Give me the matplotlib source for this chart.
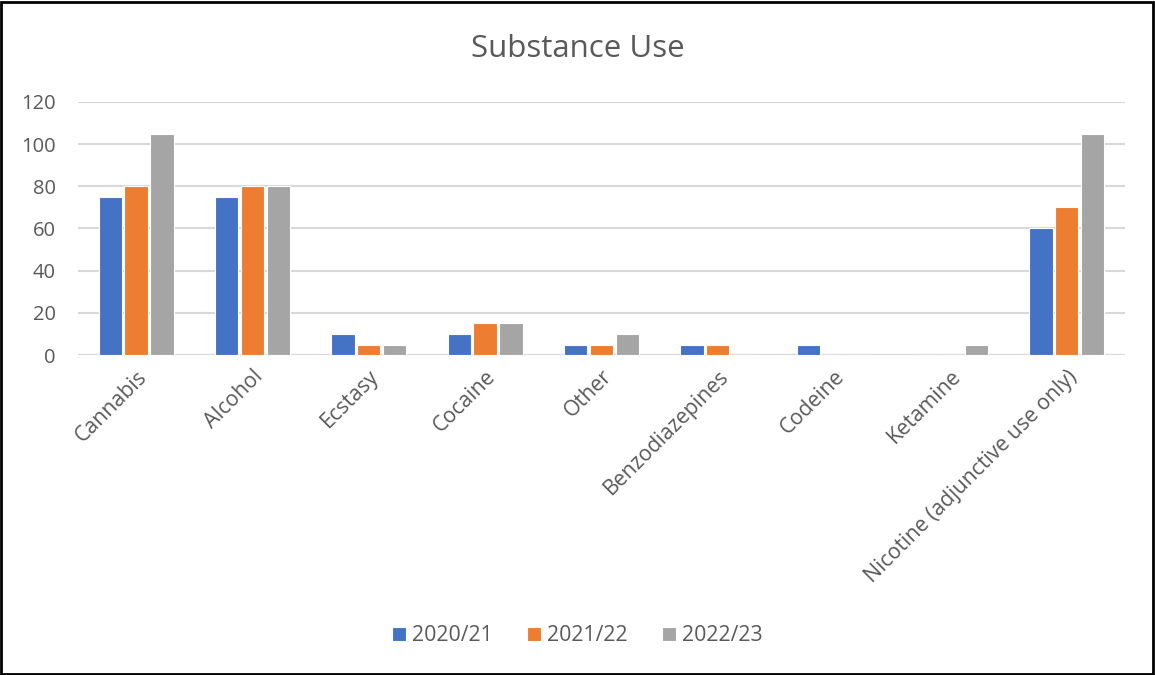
import matplotlib
matplotlib.use("Agg")
import matplotlib.pyplot as plt
import numpy as np

categories = ["Cannabis", "Alcohol", "Ecstasy", "Cocaine", "Other",
              "Benzodiazepines", "Codeine", "Ketamine",
              "Nicotine (adjunctive use only)"]
series_names = ["2020/21", "2021/22", "2022/23"]
v2020 = [75, 75, 10, 10, 5, 5, 5, 0, 60]
v2021 = [80, 80, 5, 15, 5, 5, 0, 0, 70]
v2022 = [105, 80, 5, 15, 10, 0, 0, 5, 105]
colors = ["#4472C4", "#ED7D31", "#A5A5A5"]
yticks = [0, 20, 40, 60, 80, 100, 120]

plt.rcParams['font.family'] = ['Open Sans', 'DejaVu Sans']
fig = plt.figure(figsize=(11.55, 6.75), dpi=100)
ax = fig.add_axes([0.0675, 0.474, 0.9065, 0.375])

x = np.arange(len(categories))
offsets = [-0.222, 0, 0.222]
for vals, off, c, name in zip([v2020, v2021, v2022], offsets, colors, series_names):
    ax.bar(x + off, vals, width=0.2, color=c, edgecolor='white', linewidth=0.8, label=name, zorder=3)

ax.set_xlim(-0.5, len(categories) - 0.5)
ax.set_ylim(0, 120)
ax.set_yticks(yticks)
ax.yaxis.grid(True, color='#D9D9D9', linewidth=1.5, zorder=0)
for s in ax.spines.values():
    s.set_visible(False)
ax.axhline(0, color='#D9D9D9', linewidth=1.5, zorder=1)
ax.tick_params(axis='both', length=0, labelsize=14.5, colors='#595959')
ax.tick_params(axis='y', pad=16)
ax.set_xticks(x)
ax.set_xticklabels(categories, rotation=45, ha='right', rotation_mode='anchor', fontsize=15.3)
ax.tick_params(axis='x', pad=8)

fig.text(0.5, 0.928, "Substance Use", ha='center', va='center', fontsize=22.5, color='#595959')

handles, labels = ax.get_legend_handles_labels()
fig.legend(handles, labels, loc='center', bbox_to_anchor=(0.5, 0.058), ncol=3, frameon=False,
           fontsize=15.3, labelcolor='#595959', handlelength=0.65, handleheight=0.65,
           handletextpad=0.3, columnspacing=1.6)

border = plt.Rectangle((0.001, 0.002), 0.997, 0.995, transform=fig.transFigure, fill=False,
                       edgecolor='black', linewidth=2)
fig.patches.append(border)

fig.savefig("out.png", dpi=100)
